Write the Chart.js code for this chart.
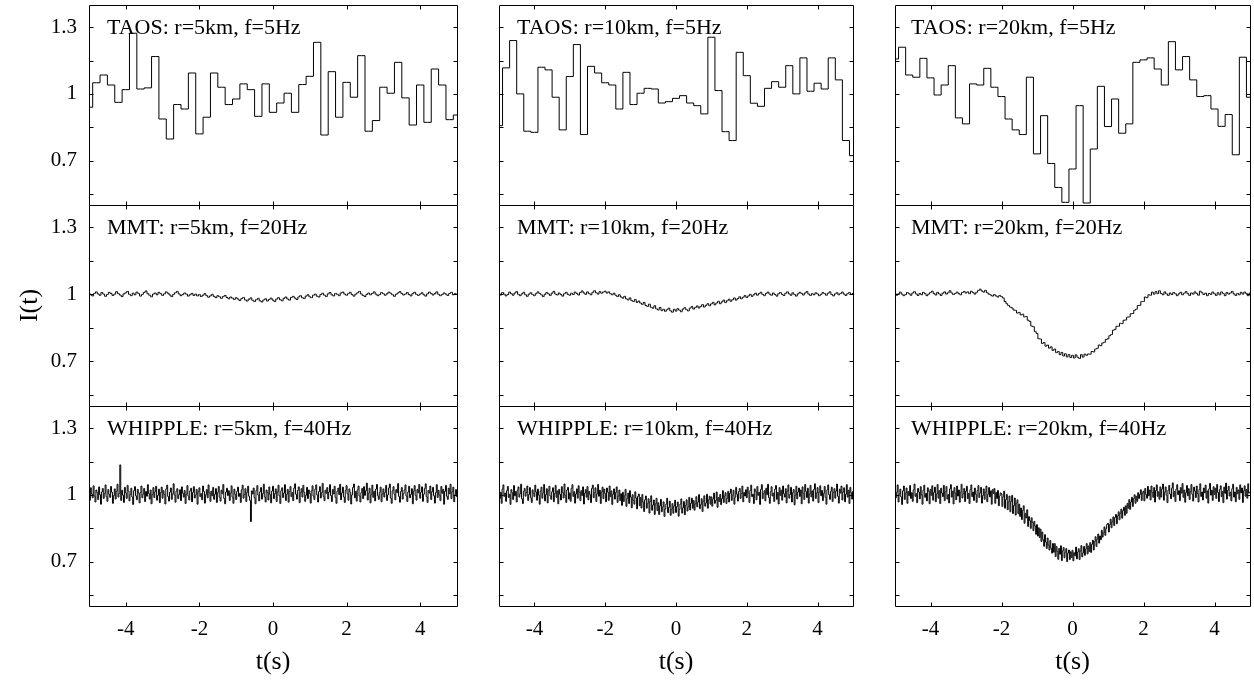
<!DOCTYPE html>
<html>
<head>
<meta charset="utf-8">
<script src="https://cdn.jsdelivr.net/npm/chart.js"></script>
<style>
  body { margin: 0; background: #fff; width: 1254px; height: 681px; overflow: hidden; position: relative; }
  canvas { position: absolute; }
</style>
</head>
<body>
<script>
// instruments (rows) and occultor radii (columns)
const instruments = ['TAOS', 'MMT', 'WHIPPLE'];
const rates = [5, 20, 40];          // Hz, sampling of each row
const radii = [5, 10, 20];          // km, one per column

const xTicks = [-4, -2, 0, 2, 4];
const yTicks = [0.55, 0.7, 0.85, 1, 1.15, 1.3];
const yLabels = [0.7, 1, 1.3];

// TAOS light curves, I(t), one sample every 0.2 s from t=-5
const taos5 = [0.94,1.05,1.085,1.04,0.962,1.019,1.273,1.022,1.027,1.168,0.887,0.797,0.952,0.932,1.094,0.82,0.895,1.094,1.03,0.952,0.977,1.045,1.019,0.899,1.045,0.917,0.959,1.003,0.917,1.042,1.079,1.232,0.815,1.1,0.895,1.052,0.985,1.172,0.832,0.88,1.03,1.003,1.142,0.982,0.86,1.04,0.872,1.112,1.04,0.884,0.905];
const taos10 = [0.857,1.117,1.24,1.0,0.832,0.827,1.12,1.108,0.985,0.838,1.078,1.222,0.817,1.124,1.094,1.05,1.04,0.932,1.097,0.952,1.003,1.025,1.022,0.959,0.965,0.98,0.992,0.959,0.947,0.91,1.255,1.015,0.83,0.79,1.187,1.082,0.958,0.944,1.025,1.055,1.03,1.127,1.0,1.162,1.012,1.048,1.022,1.162,1.063,0.79,0.722];
const taos20 = [1.157,1.21,1.085,1.075,1.16,1.072,0.995,1.04,1.127,0.892,0.865,1.045,1.04,1.115,1.03,0.988,0.887,0.838,0.817,1.075,0.73,0.902,0.687,0.579,0.512,0.662,0.947,0.509,0.752,1.034,0.853,0.977,0.823,0.865,1.142,1.153,1.162,1.112,1.04,1.235,1.108,1.168,1.063,0.988,0.992,0.932,0.854,0.907,0.726,1.165,0.985];

// MMT and WHIPPLE curves in units of 0.001 (1000 = unocculted)
const mmt5 = [
  1006,998,993,1004,1011,1002,996,1008,1001,991,999,1009,1004,995,1001,1012,1003,997,990,1002,
  1007,1013,1000,994,1005,998,1010,1004,992,999,1008,1015,1003,996,989,1001,1006,998,1009,1003,
  995,1002,1011,1005,997,990,1000,1007,1013,1002,994,999,1006,1001,992,998,1004,995,1001,993,
  999,990,996,1003,994,987,993,1000,991,985,994,989,982,990,995,986,980,988,983,977,
  985,979,972,981,986,975,970,978,984,973,968,976,982,971,966,975,980,970,977,983,
  974,968,979,985,976,971,982,988,979,974,986,991,983,977,988,994,985,981,992,998,
  989,985,996,1001,992,988,999,1005,996,990,1002,1008,998,993,1004,1000,994,1006,1010,1001,
  996,1003,1009,999,992,1001,1007,1013,1002,995,990,1000,1006,998,1004,1011,1001,994,999,1008,
  1003,996,1002,1010,1005,998,991,1000,1006,1012,1004,997,1001,1008,999,993,1003,1009,1000,995,
  1001,1007,998,992,1002,1010,1004,997,1003,1011,1000,994,999,1006,1001,995,1004,1009,998,1003,1000
];
const mmt10 = [
  1004,997,1008,1001,993,999,1010,1003,996,1006,1012,1000,994,1002,1009,998,991,1001,1007,999,
  994,1003,1011,1004,998,990,1000,1008,1002,995,1005,1013,1001,997,1006,999,992,1003,1009,1000,
  996,1005,999,1010,1004,997,1008,1015,1006,1000,1011,1004,998,1009,1016,1007,1001,1012,1005,1010,
  1014,1006,1011,1003,998,1005,996,990,998,988,983,991,980,975,984,972,968,977,964,970,
  961,955,964,950,946,956,942,938,949,935,930,941,927,933,924,931,938,926,920,933,
  925,936,929,922,934,940,931,926,938,945,934,941,948,939,946,954,943,951,958,949,
  957,964,953,961,969,958,966,974,963,971,978,969,976,984,974,981,989,980,987,994,
  986,993,1000,991,998,1005,996,1003,1009,999,994,1004,1010,1001,996,1006,999,992,1003,1008,
  1000,995,1005,1011,1002,996,1007,999,992,1002,1009,1004,997,1006,1012,1001,995,1003,998,1007,
  1002,994,1000,1008,1003,996,1005,1011,999,993,1002,1007,998,1004,1010,1001,995,1003,1008,999,1004
];
const mmt20 = [
  1005,996,1002,1010,1001,994,999,1008,1003,996,1006,1012,1002,995,1004,998,1009,1003,994,1001,
  1008,1014,1004,997,1009,1002,995,1005,1011,1001,1007,1016,1006,999,1004,1010,1003,998,1008,1013,
  1006,1011,1003,1014,1008,1001,1009,1017,1023,1015,1010,1018,1007,1001,997,992,999,993,988,995,
  990,984,968,958,950,943,939,930,928,916,919,908,911,899,901,884,879,858,855,834,
  825,801,800,780,784,768,773,759,765,749,755,739,744,730,740,724,734,720,730,717,
  727,715,729,718,713,730,719,732,727,733,732,744,742,755,758,773,770,782,785,798,
  801,815,820,839,843,857,857,870,869,884,885,898,899,913,914,929,933,950,951,968,
  968,988,985,998,996,1010,1001,1012,1003,1016,1004,998,1011,1002,995,1006,999,1008,1003,994,
  1002,1009,998,1005,1012,1003,995,1006,1001,1011,1004,996,1014,1007,999,1005,994,1004,1000,1010,
  1003,995,1007,998,1011,1004,994,1008,1001,1006,1013,1002,995,1004,998,1009,1001,1010,1004,994,1006
];
const whipple5 = [
  1018,976,1032,1004,987,1041,995,968,1022,1010,979,1036,1001,958,1013,1029,984,1006,1045,992,
  971,1024,1003,989,1038,1012,962,997,1027,981,1016,1048,990,1007,1135,975,1021,999,966,1034,
  1009,984,1043,1017,973,1002,1030,991,957,1019,1037,996,978,1025,1008,964,1011,1040,987,1003,
  1029,970,1015,994,1046,1006,981,1022,960,1001,1033,988,1014,1039,976,998,1026,965,1010,1035,
  985,1019,1002,959,1027,1044,993,972,1012,1031,980,1005,1050,999,967,1016,1028,983,1001,1023,
  974,1036,1008,990,1020,961,1004,1042,995,977,1018,1030,969,1011,1037,986,1000,1025,958,1014,
  1032,992,1006,978,1040,1015,963,1000,1024,987,1045,1009,971,1017,996,1034,980,1003,1028,966,
  1011,1038,989,972,1021,1005,1047,984,960,1013,1030,997,1019,975,1008,1041,990,962,1026,1002,
  979,1016,1035,993,1007,966,1023,1044,985,1001,1028,970,1012,1039,994,976,880,1018,1004,1031,
  987,960,1020,1042,999,973,1014,1033,981,1006,1048,991,968,1022,1010,977,1036,1001,964,1017,
  1039,983,1005,1027,970,1013,1044,996,961,1019,1032,988,1008,1046,975,1002,1025,967,1015,1038,
  992,1011,974,1030,1050,1003,981,1020,1036,965,1009,1028,990,1043,1012,971,998,1034,984,1022,
  1006,963,1018,1041,995,979,1026,1045,1000,968,1015,1037,986,1010,1052,993,974,1021,1007,1033,
  982,1013,1046,997,970,1024,1004,1039,988,962,1017,1031,1001,1048,978,1009,1035,991,966,1020,
  1042,1005,976,1027,1012,959,1000,1033,1049,987,1015,972,1023,1040,995,968,1010,1029,983,1037,
  998,1019,1053,977,1008,1030,964,1002,1044,989,1016,973,1026,1047,996,980,1012,1035,969,1004,
  1027,990,1011,1043,975,1000,1031,1049,986,962,1018,1037,1003,978,1024,1010,1051,993,967,1015,
  1033,981,1006,1022,1045,995,970,1013,1039,987,1002,1028,960,1017,1042,998,976,1025,1009,1047,
  985,1012,1036,971,1003,1029,1050,992,966,1020,1008,1040,979,1014,1034,996,963,1011,1046,988,
  1021,1000,974,1038,1007,1025,958,1016,1043,994,980,1030,1005,1048,983,1013,1035,969,1001,1024,
  992
];
const whipple10 = [
  1031,984,1012,962,1027,1045,993,1008,971,1019,1038,988,1003,957,1024,1010,979,1042,996,1015,
  968,1021,1036,990,1005,1048,982,961,1016,1029,994,1011,1040,975,1002,1033,987,966,1023,1007,
  992,1044,1013,976,1026,999,958,1017,1035,985,1009,1047,973,1001,1028,964,1020,1039,995,980,
  1014,1032,969,1006,1043,989,1018,960,1025,1003,977,1037,1011,986,1049,998,966,1022,1034,981,
  1009,971,1030,1046,993,1015,963,1004,1027,985,1041,1012,974,1019,997,1036,959,1008,1024,990,
  1038,978,1016,1001,965,1029,1044,987,1010,1032,970,1005,1047,994,1021,961,1013,1035,983,1026,
  1006,969,1031,1012,975,1040,992,1018,957,1003,1027,981,1011,1036,966,995,1022,974,1005,953,
  1012,970,996,1025,948,983,1008,961,1019,990,942,1001,975,958,1014,986,937,993,1004,951,
  988,941,1002,967,925,978,995,940,962,983,918,970,996,931,954,977,912,960,985,929,
  965,912,951,980,924,946,969,903,937,958,985,920,944,972,908,935,961,917,950,976,
  921,947,968,904,935,959,982,918,942,970,911,953,978,927,946,989,932,962,985,940,
  975,931,960,992,946,968,1001,938,957,983,925,971,996,949,964,1003,940,978,994,958,
  991,949,982,1008,962,975,1013,944,988,970,1002,956,983,1019,966,995,1010,961,984,1016,
  968,1007,1026,975,998,1021,958,990,1034,1003,972,1015,1029,984,1006,1040,969,1011,995,1023,
  987,1035,1009,966,1020,1044,992,1003,961,1027,1016,978,1038,998,1012,957,1025,1046,983,1006,
  1019,973,1030,1001,1048,988,962,1014,1037,995,1008,970,1026,1042,980,1011,959,1033,997,1021,
  976,1040,1005,990,1028,964,1017,1045,985,1002,1034,968,1010,1024,955,999,1039,982,1013,1031,
  993,1022,960,1036,1007,979,1047,1015,988,1030,963,1004,1043,991,1018,972,1025,1050,984,1009,
  1033,965,1012,1041,996,1020,974,1006,1038,989,958,1023,1045,1001,980,1016,1035,970,1011,1028,
  985,1017,1049,994,963,1026,1008,1040,977,1013,1032,969,1003,1046,990,1021,961,1034,1010,981,
  1015
];
const whipple20 = [
  1034,987,1012,1045,968,1003,1026,991,957,1018,1040,979,1008,1031,962,1015,996,1042,984,1010,
  971,1023,1049,993,1006,965,1029,1013,982,1037,1000,958,1021,1044,989,1007,973,1032,1016,960,
  1025,998,1041,976,1011,1035,969,1004,1047,985,1019,961,1030,1008,992,1043,974,1014,1038,981,
  1002,964,1027,1046,990,1017,959,1033,1008,978,1040,995,1022,967,1012,1048,986,1005,1029,970,
  1016,1039,983,1007,961,1024,1045,992,1013,975,1031,1003,966,1020,1042,988,1009,1034,963,997,
  1027,980,1012,1040,969,1003,1033,991,1018,958,1024,1006,1029,962,1011,984,1020,951,995,1009,
  1004,948,991,1017,940,979,1002,933,968,995,924,971,998,916,952,986,909,963,978,915,
  958,903,941,889,930,951,872,917,896,933,858,902,884,849,897,876,839,881,860,823,
  866,815,852,808,846,790,833,798,769,821,788,759,806,774,752,795,760,738,781,742,
  781,722,768,745,710,759,733,771,704,748,763,717,742,759,700,738,752,709,744,718,
  751,703,740,726,765,712,743,758,709,747,772,721,739,768,728,756,781,734,770,745,
  785,741,778,796,752,790,812,768,801,824,783,815,798,841,810,829,856,818,848,867,
  872,833,866,891,852,879,901,862,898,912,870,905,924,888,917,936,895,929,944,908,
  951,917,962,940,979,935,968,989,948,983,1001,962,994,971,1010,984,1002,1023,975,1008,
  1017,973,1029,1002,985,1038,996,1022,977,1040,1011,989,1033,968,1019,1045,993,1014,980,1036,
  990,1027,1049,976,1012,1036,998,965,1021,1043,1004,983,1030,1054,992,1015,970,1026,1046,1001,
  1019,974,1033,1008,1051,989,1022,967,1010,1042,996,1028,979,1014,1047,1003,972,1035,1017,988,
  1040,1006,968,1025,1050,993,1013,977,1031,1009,1044,985,1018,963,1027,1052,999,1021,975,1037,
  1002,1030,984,1047,1011,970,1024,1041,992,1016,965,1035,1007,1053,981,1020,1039,995,1012,973,
  1028,1048,990,1013,969,1034,1005,1022,980,1045,1009,1031,966,1018,1041,994,1024,985,1050,1008,
  1012
];

const series = [
  [taos5, taos10, taos20],
  [mmt5, mmt10, mmt20],
  [whipple5, whipple10, whipple20],
];
const scaleOf = [1, 1000, 1000];

// panel frames on the page
const colLeft = [89, 499, 895];
const colRight = [457, 853, 1250];
const rowTop = [5, 205, 406];
const rowBottom = [205, 406, 606];
const labelDx = [18, 18, 16];

const serif = '"Liberation Serif", "Times New Roman", serif';

const framePlugin = {
  id: 'frame',
  afterDraw(chart, args, opts) {
    const { ctx, chartArea: a } = chart;
    const xs = chart.scales.x, ys = chart.scales.y;
    const L = a.left + 0.5, R = a.right + 0.5, T = a.top + 0.5, B = a.bottom + 0.5;
    const tl = 4;
    ctx.save();
    ctx.strokeStyle = '#000';
    ctx.lineWidth = 1;
    ctx.beginPath();
    ctx.rect(L, T, R - L, B - T);
    xTicks.forEach((v) => {
      const px = Math.round(xs.getPixelForValue(v)) + 0.5;
      ctx.moveTo(px, B); ctx.lineTo(px, B - tl);
      ctx.moveTo(px, T); ctx.lineTo(px, T + tl);
    });
    yTicks.forEach((v) => {
      const py = Math.round(ys.getPixelForValue(v)) + 0.5;
      ctx.moveTo(L, py); ctx.lineTo(L + tl, py);
      ctx.moveTo(R, py); ctx.lineTo(R - tl, py);
    });
    ctx.stroke();

    ctx.fillStyle = '#000';
    ctx.font = '22px ' + serif;
    ctx.textBaseline = 'middle';
    ctx.textAlign = 'left';
    ctx.fillText(opts.label, a.left + opts.dx, a.top + 23);
    ctx.restore();
  },
};

function makePanel(r, c) {
  const padL = c === 0 ? 75 : 10;
  const padR = 10, padT = 10;
  const padB = r === 2 ? 681 - rowBottom[2] : 10;
  const w = colRight[c] - colLeft[c];
  const h = rowBottom[r] - rowTop[r];

  const cv = document.createElement('canvas');
  cv.width = padL + w + padR;
  cv.height = padT + h + padB;
  cv.style.left = colLeft[c] - padL + 'px';
  cv.style.top = rowTop[r] - padT + 'px';
  document.body.appendChild(cv);

  const f = rates[r];
  const pts = series[r][c].map((v, i) => ({ x: -5 + i / f, y: v / scaleOf[r] }));

  new Chart(cv, {
    type: 'line',
    data: {
      datasets: [
        {
          data: pts,
          borderColor: '#000',
          borderWidth: 1,
          pointRadius: 0,
          stepped: 'middle',
          fill: false,
        },
      ],
    },
    options: {
      responsive: false,
      animation: false,
      devicePixelRatio: 1,
      layout: { padding: { top: padT, right: padR, left: 0, bottom: 0 } },
      plugins: {
        legend: { display: false },
        tooltip: { enabled: false },
        frame: {
          label: `${instruments[r]}: r=${radii[c]}km, f=${rates[r]}Hz`,
          dx: labelDx[c],
        },
      },
      scales: {
        x: {
          type: 'linear',
          min: -5,
          max: 5,
          afterBuildTicks: (s) => { s.ticks = xTicks.map((v) => ({ value: v })); },
          afterFit: (s) => { s.height = padB; s.paddingLeft = 0; s.paddingRight = 0; },
          grid: { display: false, drawTicks: false },
          border: { display: false },
          ticks: {
            display: r === 2,
            padding: 11,
            color: '#000',
            maxRotation: 0,
            autoSkip: false,
            font: { family: serif, size: 21 },
          },
          title: {
            display: r === 2,
            text: 't(s)',
            color: '#000',
            padding: { top: 0, bottom: 3 },
            font: { family: serif, size: 26 },
          },
        },
        y: {
          min: 0.5,
          max: 1.4,
          afterBuildTicks: (s) => { s.ticks = yTicks.map((v) => ({ value: v })); },
          afterFit: (s) => { s.width = padL; s.paddingTop = 0; s.paddingBottom = 0; },
          grid: { display: false, drawTicks: false },
          border: { display: false },
          ticks: {
            display: c === 0,
            padding: 12,
            color: '#000',
            autoSkip: false,
            font: { family: serif, size: 21 },
            callback: (v) => {
              const hit = yLabels.find((l) => Math.abs(l - v) < 1e-6);
              return hit === undefined ? '' : String(hit);
            },
          },
          title: {
            display: c === 0 && r === 1,
            text: 'I(t)',
            color: '#000',
            padding: { top: 1, bottom: 0 },
            font: { family: serif, size: 26 },
          },
        },
      },
    },
    plugins: [framePlugin],
  });
}

for (let r = 0; r < 3; r++) {
  for (let c = 0; c < 3; c++) makePanel(r, c);
}
</script>
</body>
</html>
